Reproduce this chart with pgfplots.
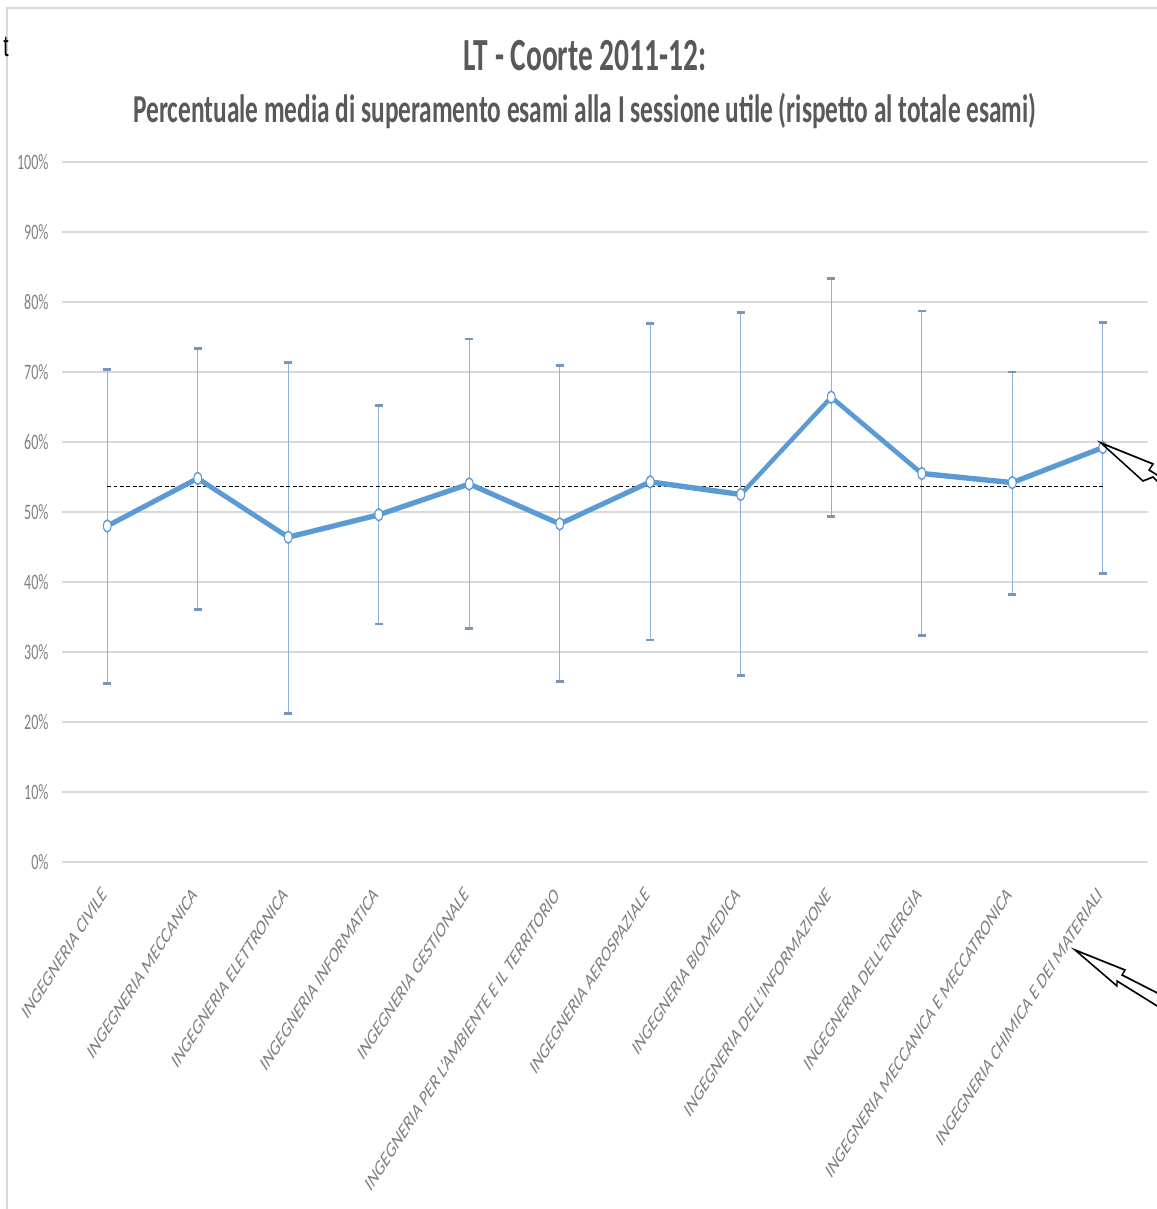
\documentclass[border=0pt]{standalone}
\usepackage{pgfplots}
\pgfplotsset{compat=1.18}
\usepackage{pgfplotstable}
\usepackage{fontspec}
\setmainfont{Carlito}
\newfontfamily\sistema{Liberation Sans}

\definecolor{linea}{HTML}{5B9BD5}
\definecolor{barre}{HTML}{8EB1DB}
\definecolor{griglia}{HTML}{D9D9D9}
\definecolor{titolo}{HTML}{595959}
\definecolor{etich}{HTML}{808080}

% media, errore sopra, errore sotto (punti percentuali)
\pgfplotstableread{
x  y     ep    em
0  48.0  22.4  22.5
1  54.8  18.5  18.7
2  46.4  25.0  25.2
3  49.6  15.6  15.6
4  54.0  20.7  20.6
5  48.3  22.6  22.5
6  54.3  22.6  22.6
7  52.5  26.0  25.9
8  66.4  16.9  17.1
9  55.5  23.2  23.2
10 54.2  15.8  16.0
11 59.2  17.9  18.0
}\dati

\begin{document}
\scalebox{0.64}[1]{%
\begin{tikzpicture}
\useasboundingbox (0,0) rectangle (903.125pt,604.5pt);

\begin{axis}[
    at={(48.4375pt,173.5pt)}, anchor=south west,
    scale only axis, width=848.4375pt, height=350pt,
    xmin=-0.5, xmax=11.5, ymin=0, ymax=100,
    axis line style={draw=none},
    tick style={draw=none},
    ymajorgrids,
    grid style={griglia, line width=0.8pt},
    ytick={0,10,...,100},
    yticklabels={0\%,10\%,20\%,30\%,40\%,50\%,60\%,70\%,80\%,90\%,100\%},
    yticklabel style={text=etich, font=\fontsize{11}{13}\selectfont},
    yticklabel shift=7pt,
    xtick={0,...,11},
    xticklabels={INGEGNERIA CIVILE, INGEGNERIA MECCANICA, INGEGNERIA ELETTRONICA,
        INGEGNERIA INFORMATICA, INGEGNERIA GESTIONALE,
        INGEGNERIA PER L'AMBIENTE E IL TERRITORIO, INGEGNERIA AEROSPAZIALE,
        INGEGNERIA BIOMEDICA, INGEGNERIA DELL'INFORMAZIONE, INGEGNERIA DELL'ENERGIA,
        INGEGNERIA MECCANICA E MECCATRONICA, INGEGNERIA CHIMICA E DEI MATERIALI},
    xticklabel style={rotate=45, anchor=east, text=etich, font=\fontsize{11.2}{13}\selectfont},
    xticklabel shift=12pt,
]
% barre d'errore
\addplot[only marks, mark=none,
    error bars/.cd, y dir=both, y explicit,
    error bar style={barre, line width=1.1pt},
    error mark options={rotate=90, barre!85!black, mark size=3pt, line width=1.4pt}]
    table[x=x, y=y, y error plus=ep, y error minus=em]{\dati};
% media complessiva
\addplot[black, densely dashed, line width=0.7pt] coordinates {(0,53.6) (11,53.6)};
% percentuale media
\addplot[linea, line width=2.7pt, mark=*,
    mark options={fill=white, draw=linea, line width=0.8pt},
    mark size=3pt]
    table[x=x, y=y]{\dati};
\end{axis}

\begin{scope}[shift={(0pt,604.5pt)}, x=0.78125pt, y=-0.5pt]
  \draw[griglia, line width=1pt] (7,1220) -- (7,8) -- (1170,8);
  \node[anchor=base east, inner sep=0pt, font=\sistema\fontsize{15}{17}\selectfont] at (9,57) {t};
  \node[anchor=base, text=titolo, font=\bfseries\fontsize{23}{27}\selectfont] at (585,71)
      {LT - Coorte 2011-12:};
  \node[anchor=base, text=titolo, font=\bfseries\fontsize{19.8}{23}\selectfont] at (585,123)
      {Percentuale media di superamento esami alla I sessione utile (rispetto al totale esami)};
  % frecce di annotazione
  \draw[black, fill=white, line width=0.9pt, line join=miter]
      (1101,443) -- (1153,464) -- (1149,470) -- (1175,486) -- (1170,494)
      -- (1153,477) -- (1143,481) -- cycle;
  \draw[black, fill=white, line width=0.9pt, line join=miter]
      (1075,950) -- (1125,970) -- (1122,975) -- (1175,1002) -- (1170,1014)
      -- (1117,981) -- (1117,986) -- cycle;
\end{scope}
\end{tikzpicture}}
\end{document}
